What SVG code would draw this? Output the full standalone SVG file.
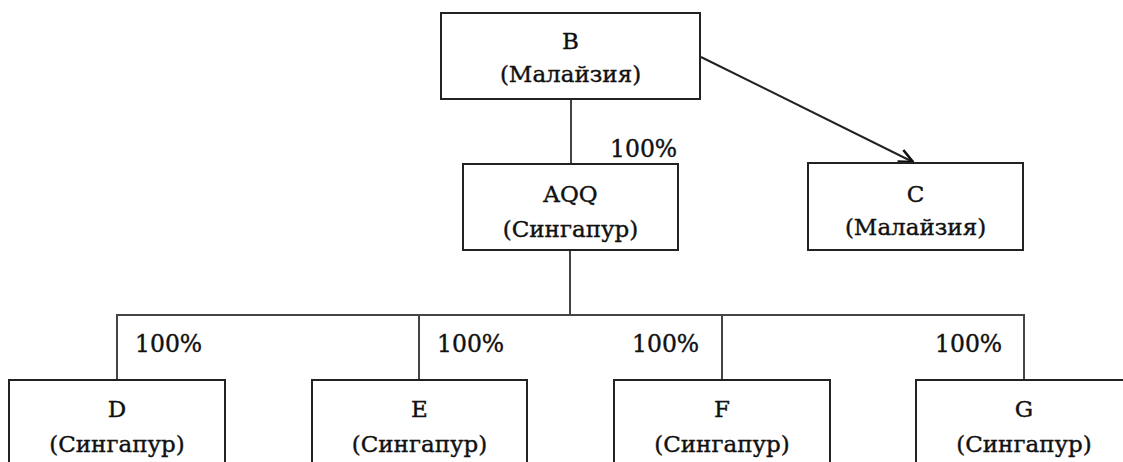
<svg xmlns="http://www.w3.org/2000/svg" width="1123" height="462" viewBox="0 0 1123 462">
<style>
.box{fill:#fff;stroke:#222;stroke-width:2}
.t{font-family:"DejaVu Serif","Liberation Serif",serif;font-size:23px;fill:#111;stroke:#111;stroke-width:0.4;text-anchor:middle}
.p{font-family:"DejaVu Serif","Liberation Serif",serif;font-size:23.5px;fill:#111;stroke:#111;stroke-width:0.4}
.c{fill:none;stroke:#444;stroke-width:2}
</style>
<defs>
<marker id="arr" viewBox="0 0 16 16" refX="15" refY="8" markerWidth="16" markerHeight="16" markerUnits="userSpaceOnUse" orient="auto">
<path d="M1,1.5 L15,8 L1,14.5" fill="none" stroke="#111" stroke-width="2.6"/>
</marker>
</defs>
<g id="connectors">
<line class="c" x1="571" y1="99" x2="571" y2="164"/>
<line class="c" x1="570" y1="250" x2="570" y2="315"/>
<polyline class="c" points="117,380 117,315 1024,315 1024,380"/>
<line class="c" x1="419" y1="315" x2="419" y2="380"/>
<line class="c" x1="722" y1="315" x2="722" y2="380"/>
<line x1="701" y1="57" x2="913" y2="162" stroke="#222" stroke-width="2" marker-end="url(#arr)"/>
<text class="p" x="610" y="157">100%</text>
<text class="p" x="135" y="352">100%</text>
<text class="p" x="437" y="352">100%</text>
<text class="p" x="632" y="352">100%</text>
<text class="p" x="935" y="352">100%</text>
</g>
<g id="node-B">
<rect class="box" x="441" y="13" width="259" height="86"/>
<text class="t" x="570.5" y="49">B</text>
<text class="t" x="570.5" y="82">(Малайзия)</text>
</g>
<g id="node-AQQ">
<rect class="box" x="463" y="164" width="215" height="86"/>
<text class="t" x="570.5" y="202">AQQ</text>
<text class="t" x="570.5" y="237">(Сингапур)</text>
</g>
<g id="node-C">
<rect class="box" x="808" y="163" width="215" height="87"/>
<text class="t" x="915.5" y="202">C</text>
<text class="t" x="915.5" y="235">(Малайзия)</text>
</g>
<g id="node-D">
<rect class="box" x="9" y="380" width="216" height="100"/>
<text class="t" x="117" y="417">D</text>
<text class="t" x="117" y="452">(Сингапур)</text>
</g>
<g id="node-E">
<rect class="box" x="312" y="380" width="215" height="100"/>
<text class="t" x="419.5" y="417">E</text>
<text class="t" x="419.5" y="452">(Сингапур)</text>
</g>
<g id="node-F">
<rect class="box" x="614" y="380" width="216" height="100"/>
<text class="t" x="722" y="417">F</text>
<text class="t" x="722" y="452">(Сингапур)</text>
</g>
<g id="node-G">
<rect class="box" x="916" y="380" width="216" height="100"/>
<text class="t" x="1024" y="417">G</text>
<text class="t" x="1024" y="452">(Сингапур)</text>
</g>
</svg>
